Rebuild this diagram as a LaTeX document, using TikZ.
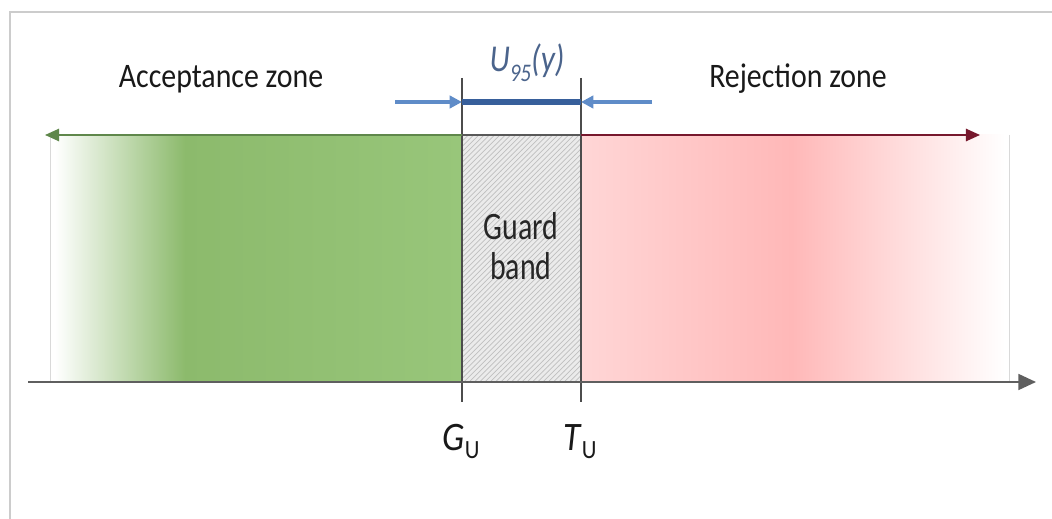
\documentclass[tikz,border=0pt]{standalone}
\usepackage{fontspec}
\setmainfont{Carlito}
\usetikzlibrary{arrows.meta,patterns}

\definecolor{accgreen}{RGB}{140,186,108}
\definecolor{accgreenlt}{RGB}{152,198,122}
\definecolor{accgreendk}{RGB}{95,135,75}
\definecolor{rejred}{RGB}{255,184,184}
\definecolor{rejredlt}{RGB}{255,214,214}
\definecolor{rejreddk}{RGB}{170,35,65}
\definecolor{bandblue}{RGB}{55,95,155}
\definecolor{arrblue}{RGB}{95,140,200}
\definecolor{labelblue}{RGB}{75,100,140}
\definecolor{axisgray}{RGB}{95,95,95}

\tikzset{
  zonelabel/.style={font=\fontsize{17}{20}\selectfont, text=black!90, anchor=base},
  limitlabel/.style={font=\fontsize{20}{24}\selectfont, text=black!90, anchor=base},
  limitline/.style={draw=black!70, line width=0.8pt},
  uarrow/.style={arrblue, line width=2.4pt, -{Triangle[length=7pt,width=7pt]}},
}

\newcommand{\tall}[2][1.15]{\scalebox{1}[#1]{#2}}
\newcommand{\limsub}[1]{\raisebox{-0.45ex}{\fontsize{13}{16}\selectfont #1}}

\begin{document}
\begin{tikzpicture}[x=0.2mm,y=-0.2mm]
\useasboundingbox (0,0) rectangle (1052,519);

% Cadre
\draw[black!20, line width=0.8pt] (10,519) -- (10,12) -- (1052,12);

% Zone d'acceptation
\shade[left color=white, right color=accgreen] (55,135) rectangle (185,382);
\shade[left color=accgreen, right color=accgreenlt] (185,135) rectangle (462,382);
\draw[black!15] (50,135) -- (50,382);

% Bande de garde
\fill[black!8] (462,135) rectangle (581,382);
\fill[pattern=north east lines, pattern color=black!25] (462,135) rectangle (581,382);

% Zone de rejet
\shade[left color=rejredlt, right color=rejred] (581,135) rectangle (792,382);
\shade[left color=rejred, right color=white] (792,135) rectangle (1005,382);
\draw[black!15] (1009,135) -- (1009,382);

% Limites
\coordinate (Gtop) at (462,78);
\coordinate (Gbot) at (462,402);
\coordinate (Ttop) at (581,78);
\coordinate (Tbot) at (581,402);
\draw[limitline] (Gtop) -- (Gbot);
\draw[limitline] (Ttop) -- (Tbot);

% Fleches du haut
\coordinate (Gmid) at (462,135);
\coordinate (Tmid) at (581,135);
\coordinate (accend) at (45,135);
\coordinate (rejend) at (980,135);
\draw[accgreendk, line width=1pt, -{Triangle[length=8pt,width=7pt]}] (Gmid) -- (accend);
\draw[rejreddk!70!black, line width=1pt, -{Triangle[length=8pt,width=7pt]}] (Tmid) -- (rejend);
\draw[black!65, line width=1pt] (Gmid) -- (Tmid);

% Axe
\coordinate (axstart) at (28,382);
\coordinate (axend) at (1036,382);
\draw[axisgray, line width=1.2pt, -{Triangle[length=10pt,width=9pt]}] (axstart) -- (axend);

% Incertitude
\coordinate (uleft) at (395,102);
\coordinate (uright) at (652,102);
\coordinate (ug) at (462,102);
\coordinate (ut) at (581,102);
\draw[uarrow] (uleft) -- (ug);
\draw[uarrow] (uright) -- (ut);
\draw[bandblue, line width=3pt] (ug) -- (ut);

% Labels
\node[zonelabel] (acc) at (221,88) {\tall{Acceptance zone}};
\node[zonelabel] (rej) at (798,88) {\tall{Rejection zone}};
\node[font=\fontsize{17}{23}\selectfont, text=black!85, align=center] (gb) at (521,246)
  {\tall[1.3]{Guard}\\\tall[1.3]{band}};
\node[font=\fontsize{18}{21}\selectfont, text=labelblue, anchor=base] (u95) at (527,72)
  {\tall[1.2]{\textit{U}\raisebox{-0.5ex}{\fontsize{12}{14}\selectfont\textit{95}}\textit{(y)}}};
\node[limitlabel] (gu) at (461,450) {\tall{\textit{G}\limsub{U}}};
\node[limitlabel] (tu) at (580,450) {\tall{\textit{T}\limsub{U}}};

\end{tikzpicture}
\end{document}
